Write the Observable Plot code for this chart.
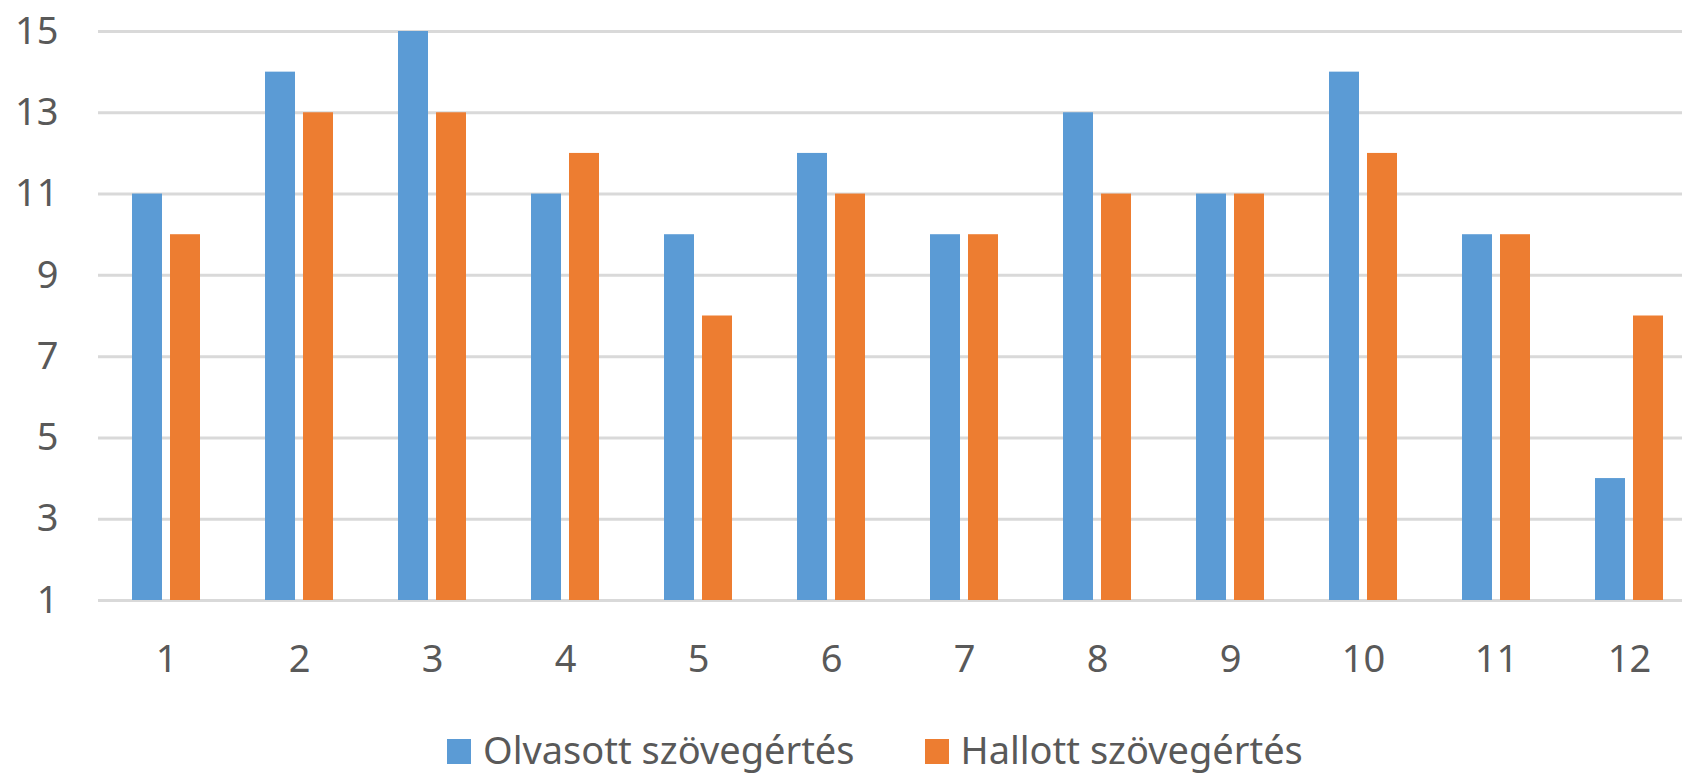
<!DOCTYPE html>
<html><head><meta charset="utf-8">
<script src="https://cdn.jsdelivr.net/npm/d3@7"></script>
<script src="https://cdn.jsdelivr.net/npm/@observablehq/plot@0.6"></script>
<style>
body{margin:0;background:#fff;font-family:"Noto Sans",sans-serif;}
#chart svg{display:block;}
#legend{position:relative;height:53px;font-size:38px;line-height:53px;color:#595959;padding-top:3px;padding-left:447px;white-space:nowrap;}
#legend .item{display:inline-block;}
#legend .sw{display:inline-block;width:24px;height:25px;vertical-align:baseline;margin-right:12px;}
</style></head><body><div id="chart"></div><div id="legend"></div><script>
const categories = ["1","2","3","4","5","6","7","8","9","10","11","12"];
const seriesNames = ["Olvasott szövegértés","Hallott szövegértés"];
const olvasott = [11,14,15,11,10,12,10,13,11,14,10,4];
const hallott = [10,13,13,12,8,11,10,11,11,12,10,8];
const yTicks = [1,3,5,7,9,11,13,15];
const colors = ["#5B9BD5","#ED7D31"];

const dataO = categories.map((c,i)=>({cat:c, series:seriesNames[0], value:olvasott[i]}));
const dataH = categories.map((c,i)=>({cat:c, series:seriesNames[1], value:hallott[i]}));

const plot = Plot.plot({
  width:1682, height:720,
  marginTop:31, marginBottom:120, marginLeft:98, marginRight:0,
  style:{fontFamily:"Noto Sans", fontSize:"38px", color:"#595959", background:"#fff", overflow:"visible"},
  x:{domain:categories, range:[99,1695], paddingInner:0.489, paddingOuter:0.2445, label:null},
  y:{domain:[1,15], label:null},
  color:{domain:seriesNames, range:colors},
  marks:[
    Plot.ruleY(yTicks, {stroke:"#d9d9d9", strokeWidth:3}),
    Plot.barY(dataO, {x:"cat", y1:1, y2:"value", fill:"series", insetRight:38}),
    Plot.barY(dataH, {x:"cat", y1:1, y2:"value", fill:"series", insetLeft:38}),
    Plot.axisY({ticks:yTicks, tickSize:0, tickPadding:40, label:null, fill:"#595959"}),
    Plot.axisX({tickSize:0, tickPadding:45, label:null, fill:"#595959"})
  ]
});
document.getElementById("chart").appendChild(plot);

const legend = document.getElementById("legend");
seriesNames.forEach((name,i)=>{
  const item = document.createElement("span");
  item.className = "item";
  if (i>0) item.style.marginLeft = "70px";
  const sw = document.createElement("span");
  sw.className = "sw";
  sw.style.background = colors[i];
  item.appendChild(sw);
  item.appendChild(document.createTextNode(name));
  legend.appendChild(item);
});
</script></body></html>
